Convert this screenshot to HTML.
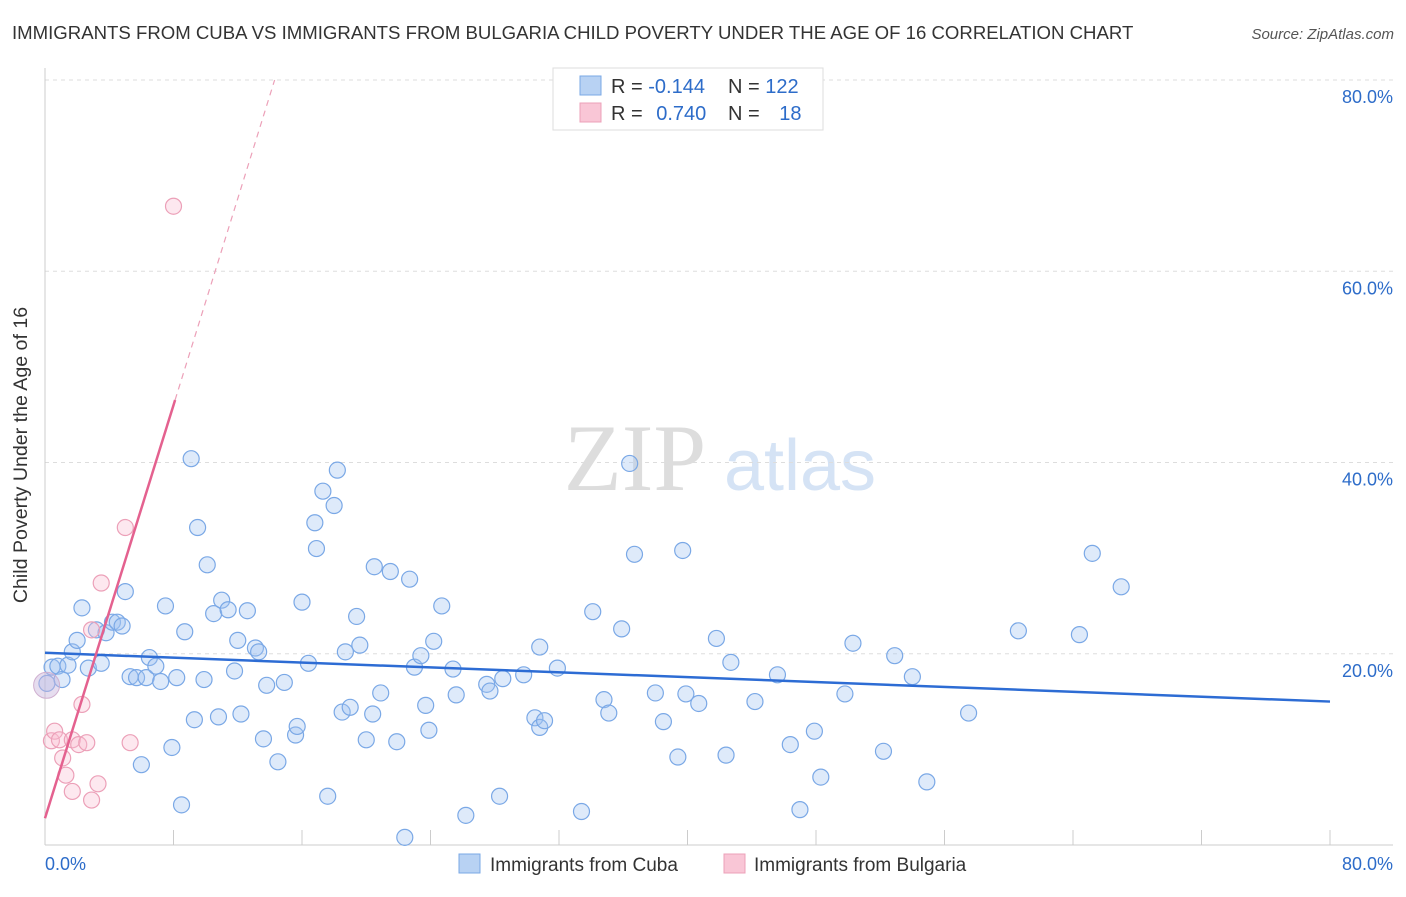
<!DOCTYPE html>
<html><head><meta charset="utf-8"><style>
body{margin:0;background:#fff;font-family:"Liberation Sans",sans-serif;}
</style></head><body>
<svg id="chart" width="1406" height="892" xmlns="http://www.w3.org/2000/svg" style="font-family:'Liberation Sans',sans-serif">
<text x="12" y="39" font-size="18.6" fill="#333">IMMIGRANTS FROM CUBA VS IMMIGRANTS FROM BULGARIA CHILD POVERTY UNDER THE AGE OF 16 CORRELATION CHART</text>
<text x="1394" y="39" font-size="15" fill="#555" font-style="italic" text-anchor="end">Source: ZipAtlas.com</text>
<text x="27" y="455" font-size="19.6" fill="#333" text-anchor="middle" transform="rotate(-90 27 455)">Child Poverty Under the Age of 16</text>
<g><text x="635" y="490" font-size="95" fill="#ddd" font-family="Liberation Serif,serif" text-anchor="middle">ZIP</text><text x="800" y="490" font-size="72" fill="#d5e3f5" text-anchor="middle">atlas</text></g>
<g id="grid"></g><g id="axes"></g><g id="marks"></g>
<g>
<rect x="553" y="68" width="270" height="62" fill="#fff" stroke="#ddd"/>
<rect x="580" y="76" width="21" height="19" fill="#b8d2f3" stroke="#7aa8e6"/>
<rect x="580" y="103" width="21" height="19" fill="#f9c6d6" stroke="#eca0b8"/>
<text x="611" y="93" font-size="20" fill="#333">R = <tspan fill="#2d6cc9">-0.144</tspan></text>
<text x="728" y="93" font-size="20" fill="#333">N = <tspan fill="#2d6cc9">122</tspan></text>
<text x="611" y="120" font-size="20" fill="#333">R = <tspan fill="#2d6cc9" dx="8">0.740</tspan></text>
<text x="728" y="120" font-size="20" fill="#333">N = <tspan fill="#2d6cc9" dx="14">18</tspan></text>
</g>
<g>
<rect x="459" y="854" width="21" height="19" fill="#b8d2f3" stroke="#7aa8e6"/>
<text x="490" y="871" font-size="19" fill="#333">Immigrants from Cuba</text>
<rect x="724" y="854" width="21" height="19" fill="#f9c6d6" stroke="#eca0b8"/>
<text x="754" y="871" font-size="19" fill="#333">Immigrants from Bulgaria</text>
</g>
</svg>
<script>
const cubaX=[0.44,0.12,0.8,1.06,1.43,1.7,2.0,2.3,2.7,3.2,3.5,3.8,4.2,4.5,4.8,5.0,5.3,5.7,6.0,6.3,6.5,6.9,7.2,7.5,7.9,8.2,8.5,8.7,9.1,9.3,9.5,9.9,10.1,10.5,10.8,11.0,11.4,11.8,12.0,12.2,12.6,13.1,13.3,13.6,13.8,14.5,14.9,15.6,15.7,16.0,16.4,16.8,16.9,17.3,17.6,18.0,18.2,18.5,18.7,19.0,19.4,19.6,20.0,20.4,20.5,20.9,21.5,21.9,22.4,22.7,23.0,23.4,23.7,23.9,24.2,24.7,25.4,25.6,26.2,27.5,27.7,28.3,28.5,29.8,30.5,30.8,31.1,30.8,31.9,33.4,34.1,34.8,35.1,35.9,36.4,36.7,38.0,38.5,39.4,39.7,39.9,40.7,41.8,42.4,42.7,44.2,45.6,46.4,47.0,47.9,48.3,49.8,50.3,52.2,52.9,54.0,54.9,57.5,60.6,64.4,65.2,67.0];
const cubaY=[18.6,16.9,18.7,17.3,18.8,20.2,21.4,24.8,18.5,22.5,19.0,22.2,23.3,23.3,22.9,26.5,17.6,17.5,8.4,17.5,19.6,18.7,17.1,25.0,10.2,17.5,4.2,22.3,40.4,13.1,33.2,17.3,29.3,24.2,13.4,25.6,24.6,18.2,21.4,13.7,24.5,20.6,20.2,11.1,16.7,8.7,17.0,11.5,12.4,25.4,19.0,33.7,31.0,37.0,5.1,35.5,39.2,13.9,20.2,14.4,23.9,20.9,11.0,13.7,29.1,15.9,28.6,10.8,0.8,27.8,18.6,19.8,14.6,12.0,21.3,25.0,18.4,15.7,3.1,16.8,16.1,5.1,17.4,17.8,13.3,12.3,13.0,20.7,18.5,3.5,24.4,15.2,13.8,22.6,39.9,30.4,15.9,12.9,9.2,30.8,15.8,14.8,21.6,9.4,19.1,15.0,17.8,10.5,3.7,11.9,7.1,15.8,21.1,9.8,19.8,17.6,6.6,13.8,22.4,22.0,30.5,27.0];
const bulX=[0.4,0.6,0.9,1.1,1.3,1.7,1.7,2.1,2.3,2.6,2.9,3.3,2.9,3.5,5.0,5.3,8.0];
const bulY=[10.9,11.9,11.0,9.1,7.3,11.0,5.6,10.5,14.7,10.7,4.7,6.4,22.5,27.4,33.2,10.7,66.8];
const bigBulX=[0.1], bigBulY=[16.7];
const cubaTrend=[20.1,15.0];
const bulTrend=[2.8,5.4];
const yTicks=[20,40,60,80];
const xTickVals=[0,8,16,24,32,40,48,56,64,72,80];
const X=v=>45+v/80*1285, Y=v=>845-v/80*765;
const NS="http://www.w3.org/2000/svg";
function mk(tag,attrs,parent){const e=document.createElementNS(NS,tag);for(const k in attrs)e.setAttribute(k,attrs[k]);document.getElementById(parent).appendChild(e);return e;}
yTicks.forEach(t=>{
 const l=mk('line',{x1:45,x2:1393,y1:Y(t),y2:Y(t),stroke:'#ddd','stroke-dasharray':'4 4'},'grid');
 
 
 const tx=mk('text',{x:1393,y:Y(t)+23,'font-size':18,fill:'#2d6cc9','text-anchor':'end'},'axes');tx.textContent=t.toFixed(1)+'%';
 
 
});
mk('line',{x1:45,x2:45,y1:68,y2:845,stroke:'#ccc'},'axes');
mk('line',{x1:45,x2:1393,y1:845,y2:845,stroke:'#ccc'},'axes');
xTickVals.forEach(t=>{const l=mk('line',{x1:X(t),x2:X(t),y1:830,y2:845,stroke:'#ccc'},'axes');
 
 });
let t0=mk('text',{x:45,y:870,'font-size':18,fill:'#2d6cc9'},'axes');t0.textContent='0.0%';


let t1=mk('text',{x:1393,y:870,'font-size':18,fill:'#2d6cc9','text-anchor':'end'},'axes');t1.textContent='80.0%';


cubaX.forEach((x,i)=>{const c=mk('circle',{cx:X(x),cy:Y(cubaY[i]),r:8,fill:'rgba(160,195,240,0.35)',stroke:'#7aa8e6','stroke-width':1.2},'marks');
 
 });
bulX.forEach((x,i)=>{const c=mk('circle',{cx:X(x),cy:Y(bulY[i]),r:8,fill:'rgba(249,190,210,0.35)',stroke:'#eca0b8','stroke-width':1.2},'marks');
 
 });
bigBulX.forEach((x,i)=>{const c=mk('circle',{cx:X(x),cy:Y(bigBulY[i]),r:13,fill:'rgba(200,180,220,0.45)',stroke:'#d0b0d0','stroke-width':1},'marks');
 
 });
let cl=mk('line',{x1:X(0),y1:Y(cubaTrend[0]),x2:X(80),y2:Y(cubaTrend[1]),stroke:'#2d6cd4','stroke-width':2.5},'marks');


const xs=8.1, xe=(80-bulTrend[0])/bulTrend[1];
let bl=mk('line',{x1:X(0),y1:Y(bulTrend[0]),x2:X(xs),y2:Y(bulTrend[0]+bulTrend[1]*xs),stroke:'#e4618f','stroke-width':2.5},'marks');


let bd=mk('line',{x1:X(xs),y1:Y(bulTrend[0]+bulTrend[1]*xs),x2:X(xe),y2:Y(80),stroke:'#eca0b8','stroke-width':1.2,'stroke-dasharray':'6 5'},'marks');


</script>
</body></html>
